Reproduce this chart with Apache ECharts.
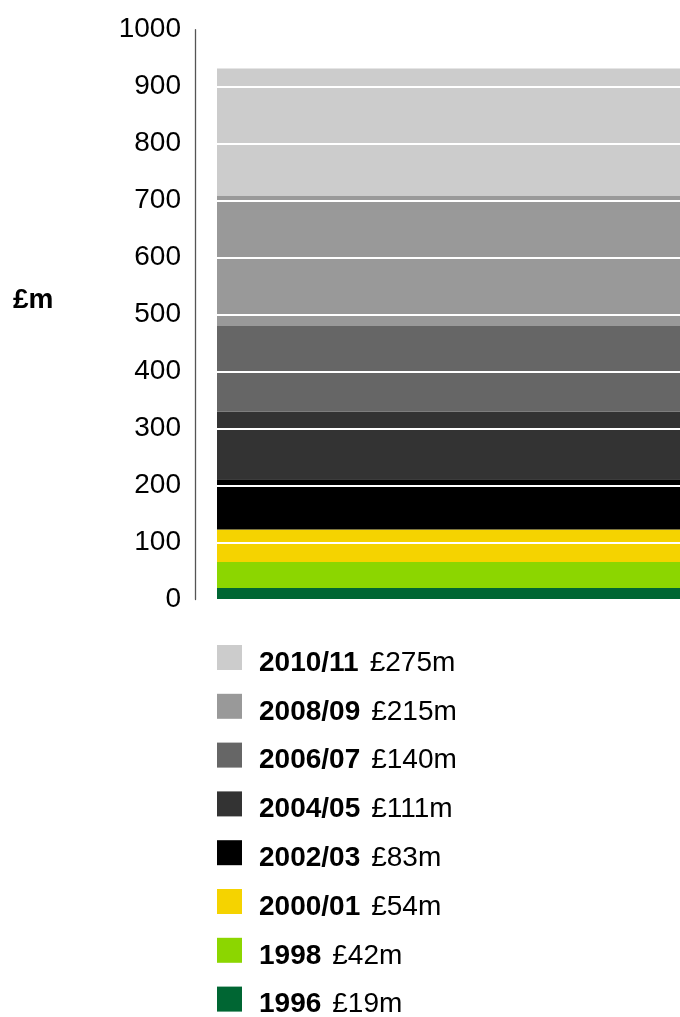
<!DOCTYPE html>
<html>
<head>
<meta charset="utf-8">
<style>
html,body{margin:0;padding:0;background:#fff;}
#chart{width:680px;height:1017px;}
</style>
<script src="https://cdn.jsdelivr.net/npm/echarts@6/dist/echarts.min.js"></script>
</head>
<body>
<div id="chart"></div>
<script>
// Series (bottom to top of the stack)
const seriesNames = ['1996', '1998', '2000/01', '2002/03', '2004/05', '2006/07', '2008/09', '2010/11'];
const legendAmounts = ['£19m', '£42m', '£54m', '£83m', '£111m', '£140m', '£215m', '£275m'];
// Segment heights (£m)
const segmentValues = [20, 46, 57, 88, 119, 150, 229, 223];
const seriesColors = ['#006633', '#8cd600', '#f5d300', '#000000', '#333333', '#666666', '#999999', '#cccccc'];
const categories = ['total'];
const yTicks = { min: 0, max: 1000, interval: 100 };
const yAxisTitle = '£m';

const FONT = '"Liberation Sans", Arial, Helvetica, sans-serif';
const chart = echarts.init(document.getElementById('chart'));

const amountByName = {};
seriesNames.forEach((n, i) => { amountByName[n] = legendAmounts[i]; });

const series = seriesNames.map((name, i) => ({
  name: name,
  type: 'bar',
  stack: 'total',
  data: [segmentValues[i]],
  barWidth: 463,
  itemStyle: { color: seriesColors[i] },
  emphasis: { disabled: true },
  animation: false
}));

chart.setOption({
  animation: false,
  grid: { left: 195, width: 507, top: 29.7, bottom: 417.5, outerBoundsMode: 'none', containLabel: false },
  xAxis: { type: 'category', data: categories, show: false },
  yAxis: {
    type: 'value',
    min: yTicks.min, max: yTicks.max, interval: yTicks.interval,
    z: 10,
    axisLine: { show: true, lineStyle: { color: '#555555', width: 1.3 } },
    axisTick: { show: false },
    axisLabel: { color: '#000', fontFamily: FONT, fontSize: 28, margin: 14, formatter: function (v) { return String(v); } },
    splitLine: { show: true, lineStyle: { color: '#ffffff', width: 2 } }
  },
  legend: {
    orient: 'vertical',
    left: 217,
    top: 645,
    padding: 0,
    height: 400,
    itemWidth: 25,
    itemHeight: 25,
    itemGap: 16.8,
    icon: 'rect',
    selectedMode: false,
    data: seriesNames.slice().reverse(),
    formatter: function (name) { return '{b|' + name + '}{n|' + amountByName[name] + '}'; },
    textStyle: {
      padding: [11, 0, 0, 12],
      rich: {
        b: { fontFamily: FONT, fontSize: 28, fontWeight: 'bold', color: '#000', lineHeight: 25 },
        n: { fontFamily: FONT, fontSize: 28, color: '#000', lineHeight: 25, padding: [0, 0, 0, 11] }
      }
    }
  },
  graphic: [{
    type: 'text',
    left: 13,
    top: 286,
    style: { text: yAxisTitle, font: 'bold 28px ' + FONT, fill: '#000' }
  }],
  series: series
});
</script>
</body>
</html>
